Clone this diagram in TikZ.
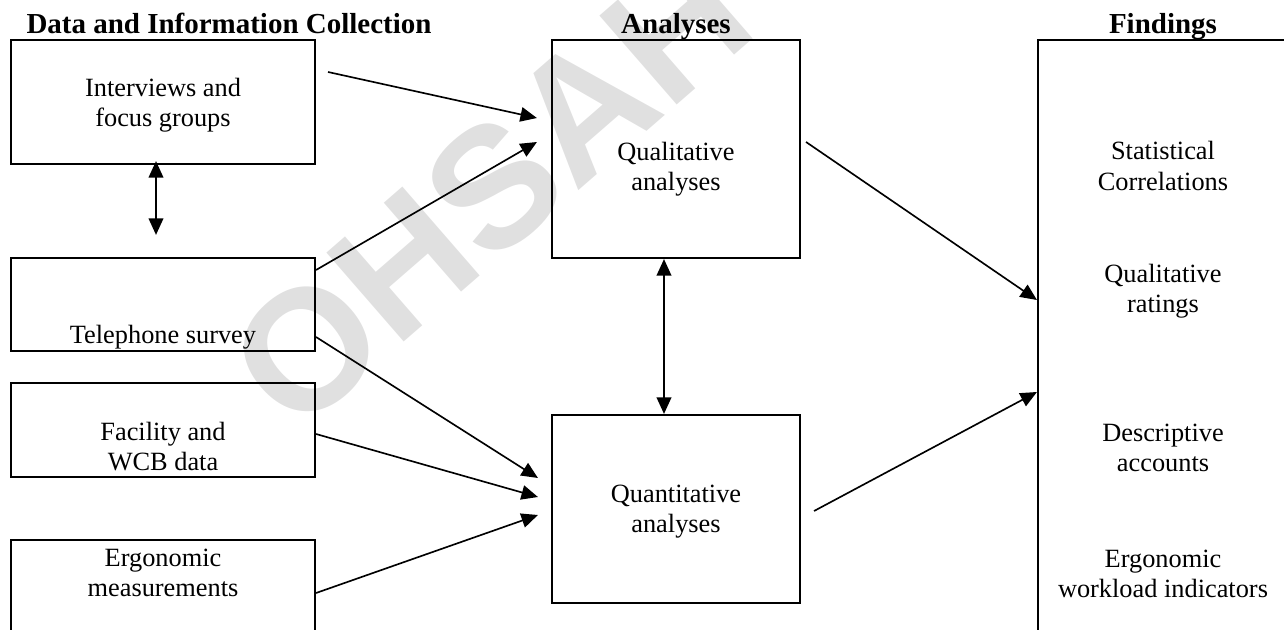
\documentclass[tikz,border=0pt]{standalone}
\usepackage{fontspec}
\setmainfont{Liberation Serif}
\newfontfamily\markfont{Liberation Sans}
\usetikzlibrary{arrows.meta,calc}

\tikzset{
  box/.style={draw, line width=1pt, inner sep=0pt},
  txt/.style={align=center, inner sep=0pt},
  head/.style={font=\fontsize{13.2}{15}\selectfont\bfseries, anchor=base, inner sep=0pt},
  link/.style={->, line width=0.75pt},
  both/.style={<->, line width=0.9pt},
}

\begin{document}
\begin{tikzpicture}[x=0.016cm, y=-0.016cm, font=\fontsize{12}{13.7}\selectfont,
                    >={Triangle[length=7.5pt,width=6.6pt]}]
\useasboundingbox (0,0) rectangle (1284,630);
\clip (0,0) rectangle (1284,630);
% watermark
\node[rotate=41, text=black!12, font=\markfont\fontsize{78}{78}\selectfont\bfseries] (mark) at (490,190) {OHSAH};

% column heads
\node[head] (hdata) at (229,33) {Data and Information Collection};
\node[head] (hanal) at (676,33) {Analyses};
\node[head] (hfind) at (1163,33) {Findings};

% data collection
\node[box, minimum width=4.864cm, minimum height=1.984cm] (intv) at (163,102) {};
\node[box, minimum width=4.864cm, minimum height=1.488cm] (phone) at (163,304.5) {};
\node[box, minimum width=4.864cm, minimum height=1.504cm] (fac) at (163,430) {};
\node[box, minimum width=4.864cm, minimum height=1.92cm] (ergo) at (163,600) {};
\node[txt] (intvtext) at (163,105) {Interviews and\\focus groups};
\node[txt] (phonetext) at (163,337) {Telephone survey};
\node[txt] (factext) at (163,447) {Facility and\\WCB data};
\node[txt] (ergotext) at (163,573) {Ergonomic\\measurements};

% analyses
\node[box, minimum width=3.968cm, minimum height=3.488cm] (qual) at (676,149) {};
\node[box, minimum width=3.968cm, minimum height=3.008cm] (quant) at (676,509) {};
\node[txt] (qualtext) at (676,169) {Qualitative\\analyses};
\node[txt] (quanttext) at (676,512) {Quantitative\\analyses};

% findings
\node[box, minimum width=4.192cm, minimum height=9.92cm] (find) at (1169,350) {};
\node[txt] (stat) at (1163,166) {Statistical\\Correlations};
\node[txt] (rate) at (1163,291) {Qualitative\\ratings};
\node[txt] (desc) at (1163,448) {Descriptive\\accounts};
\node[txt] (load) at (1163,573.5) {Ergonomic\\workload indicators};

% connectors
\draw[link] ($(intv.east)+(12,-30)$) -- ($(qual.west)+(-14,-31)$);
\draw[link] ($(phone.east)+(0,-34.5)$) -- ($(qual.west)+(-14,-7)$);
\draw[link] ($(phone.east)+(0,32.5)$) -- ($(quant.west)+(-13,-31)$);
\draw[link] ($(fac.east)+(0,4)$) -- ($(quant.west)+(-13,-12)$);
\draw[link] ($(ergo.east)+(0,-7)$) -- ($(quant.west)+(-13,6)$);
\draw[link] ($(qual.east)+(5,-7)$) -- ($(find.west)+(0,-50)$);
\draw[link] ($(quant.east)+(13,2)$) -- ($(find.west)+(0,42)$);
\draw[both] ($(intv.south)+(-7,-4)$) -- ($(phone.north)+(-7,-22)$);
\draw[both] ($(qual.south)+(-12,0)$) -- ($(quant.north)+(-12,0)$);
\end{tikzpicture}
\end{document}
